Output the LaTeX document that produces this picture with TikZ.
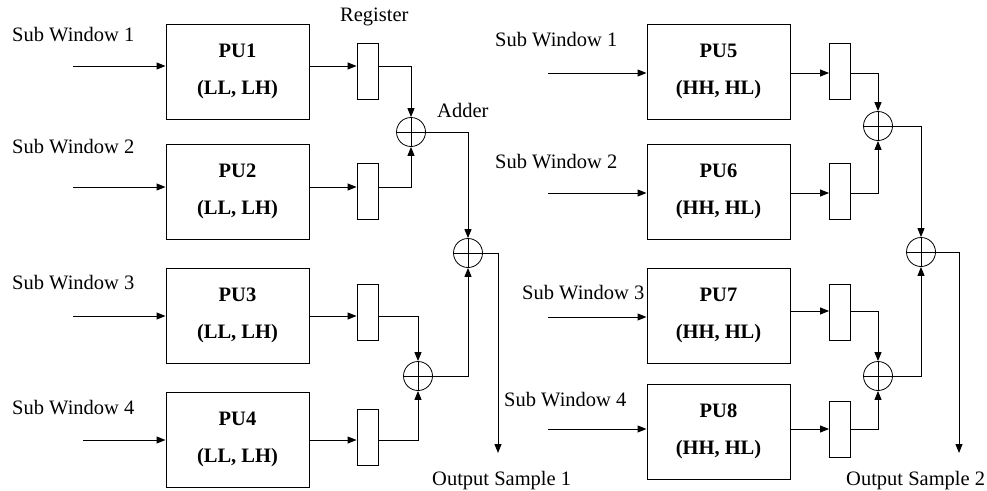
\documentclass[tikz,border=0pt]{standalone}
\usepackage{fontspec}
\setmainfont{Liberation Serif}
\usetikzlibrary{arrows.meta,calc}
\begin{document}
\begin{tikzpicture}[x=1pt,y=-1pt,
 every node/.style={font=\fontsize{20.5}{24}\selectfont, inner sep=0pt},
 pu/.style={draw, line width=1pt, minimum width=143pt, minimum height=95pt, align=center, font=\fontsize{20.5}{24}\selectfont\bfseries},
 reg/.style={draw, line width=0.9pt, minimum width=21pt, minimum height=56pt},
 adder/.style={draw, circle, line width=0.8pt, minimum size=29pt,
   path picture={\draw[line width=0.8pt] (path picture bounding box.north) -- (path picture bounding box.south)
     (path picture bounding box.west) -- (path picture bounding box.east);}},
 arr/.style={line width=1pt, -{Triangle[length=9pt,width=7pt]}},
 lab/.style={anchor=west}]
\path[use as bounding box] (0,0) rectangle (987,490);

% ---------- left half ----------
\node[pu] (pu1) at (237.5,71.5) {PU1\\[13pt](LL, LH)};
\node[pu] (pu2) at (237.5,191.5) {PU2\\[13pt](LL, LH)};
\node[pu] (pu3) at (237.5,315.5) {PU3\\[13pt](LL, LH)};
\node[pu] (pu4) at (237.5,439.5) {PU4\\[13pt](LL, LH)};

\node[reg] (r1) at (367.5,71) {};
\node[reg] (r2) at (367.5,191) {};
\node[reg] (r3) at (367.5,312) {};
\node[reg] (r4) at (367.5,437) {};

\node[adder] (a1) at (411,132) {};
\node[adder] (a2) at (418,376) {};
\node[adder] (a3) at (468,253) {};

\coordinate (i1) at (73,66);
\coordinate (i2) at (73,187);
\coordinate (i3) at (73,316);
\coordinate (i4) at (83,440);
\coordinate (o1) at (498,453);

\node[lab] (sw1) at (12,35) {Sub Window 1};
\node[lab] (sw2) at (12,147) {Sub Window 2};
\node[lab] (sw3) at (12,283) {Sub Window 3};
\node[lab] (sw4) at (12,408) {Sub Window 4};
\node[lab] (reglab) at (340,17) {Register};
\node[lab] (addlab) at (437,110) {Adder};
\node[lab] (out1lab) at (432,481) {Output Sample 1};

\foreach \k in {1,2,3,4}{
  \draw[arr] (i\k) -- (i\k -| pu\k.west);
  \draw[arr] (i\k -| pu\k.east) -- (i\k -| r\k.west);
}
\draw[arr] (i1 -| r1.east) -| (a1.north);
\draw[arr] (i2 -| r2.east) -| (a1.south);
\draw[arr] (i3 -| r3.east) -| (a2.north);
\draw[arr] (i4 -| r4.east) -| (a2.south);
\draw[arr] (a1.east) -| (a3.north);
\draw[arr] (a2.east) -| (a3.south);
\draw[arr] (a3.east) -| (o1);

% ---------- right half ----------
\node[pu] (pu5) at (718.5,71.5) {PU5\\[13pt](HH, HL)};
\node[pu] (pu6) at (718.5,191.5) {PU6\\[13pt](HH, HL)};
\node[pu] (pu7) at (718.5,315.5) {PU7\\[13pt](HH, HL)};
\node[pu] (pu8) at (718.5,431.5) {PU8\\[13pt](HH, HL)};

\node[reg] (r5) at (840,71) {};
\node[reg] (r6) at (840,191) {};
\node[reg] (r7) at (840,312) {};
\node[reg] (r8) at (840,429) {};

\node[adder] (a5) at (878,126) {};
\node[adder] (a6) at (878,376) {};
\node[adder] (a7) at (921,252) {};

\coordinate (i5) at (548,73);
\coordinate (i6) at (548,193);
\coordinate (i7) at (548,317);
\coordinate (i8) at (548,429);
\coordinate (m5) at (790,73);
\coordinate (m6) at (790,193);
\coordinate (m7) at (790,311);
\coordinate (m8) at (790,429);
\coordinate (o2) at (959,453);

\node[lab] (sw5) at (495,40) {Sub Window 1};
\node[lab] (sw6) at (495,162) {Sub Window 2};
\node[lab] (sw7) at (522,293) {Sub Window 3};
\node[lab] (sw8) at (504,400) {Sub Window 4};
\node[lab] (out2lab) at (846,481) {Output Sample 2};

\foreach \k in {5,6,7,8}{
  \draw[arr] (i\k) -- (i\k -| pu\k.west);
  \draw[arr] (m\k -| pu\k.east) -- (m\k -| r\k.west);
}
\draw[arr] (m5 -| r5.east) -| (a5.north);
\draw[arr] (m6 -| r6.east) -| (a5.south);
\draw[arr] (m7 -| r7.east) -| (a6.north);
\draw[arr] (m8 -| r8.east) -| (a6.south);
\draw[arr] (a5.east) -| (a7.north);
\draw[arr] (a6.east) -| (a7.south);
\draw[arr] (a7.east) -| (o2);
\end{tikzpicture}
\end{document}
